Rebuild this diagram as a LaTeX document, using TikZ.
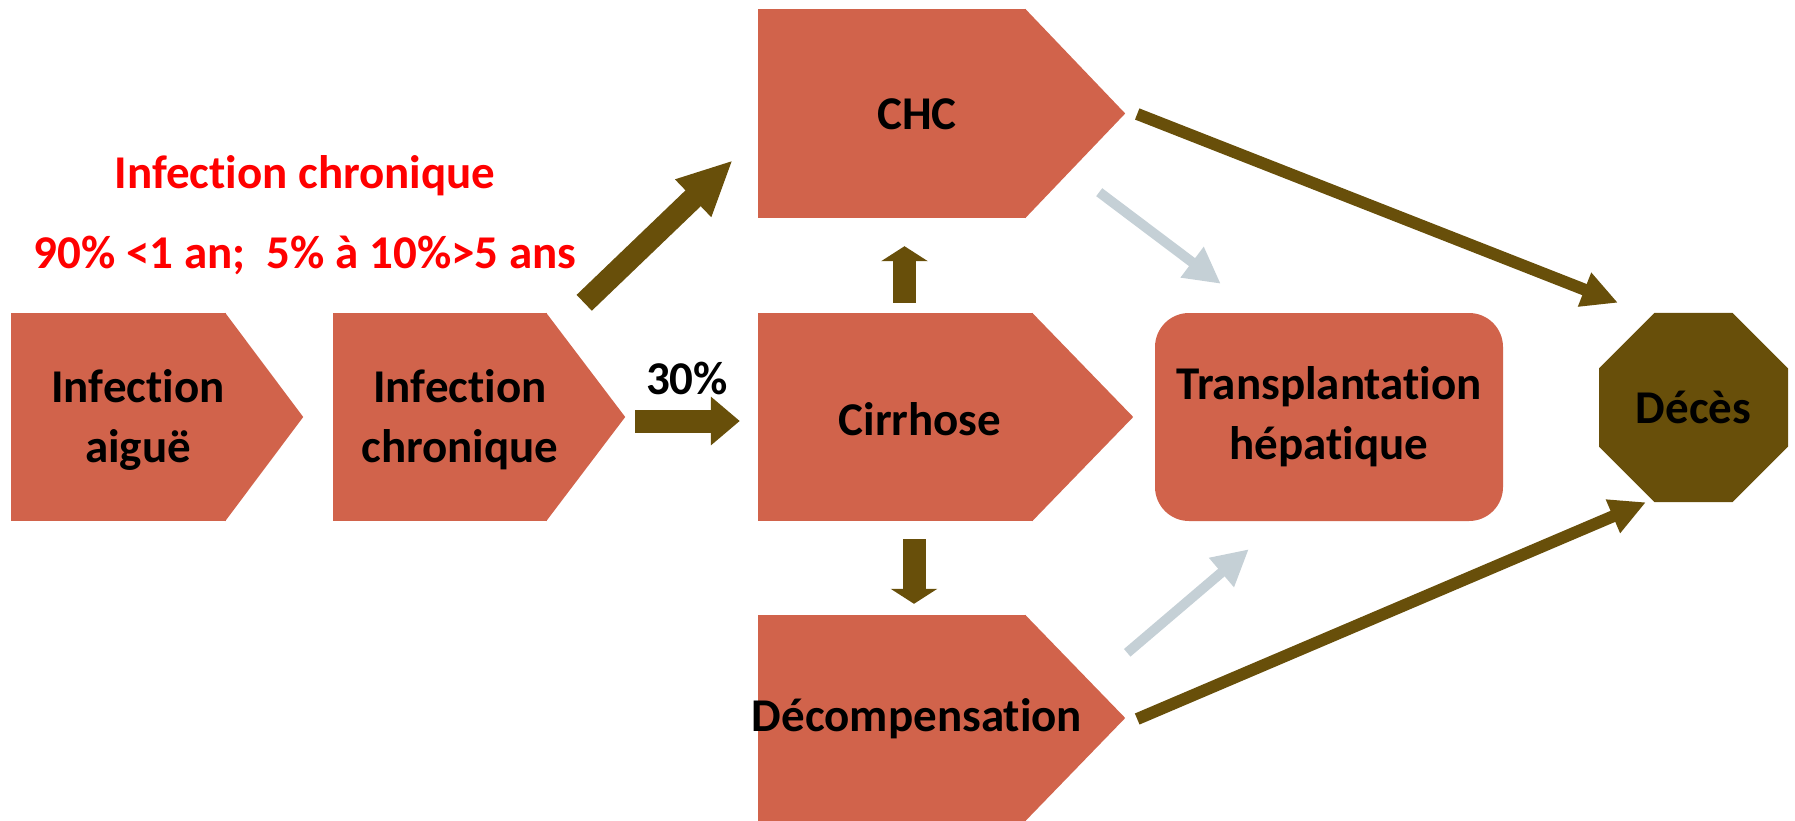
\documentclass[tikz,border=0pt]{standalone}
\usepackage{fontspec}
\setmainfont{Carlito}[Ligatures={NoCommon}]
\usetikzlibrary{arrows.meta, shapes.geometric}
\definecolor{BR}{RGB}{209,99,75}
\definecolor{DB}{RGB}{104,79,10}
\definecolor{LS}{RGB}{197,208,214}
\definecolor{RD}{RGB}{255,0,0}

\begin{document}
\begin{tikzpicture}[
  x=1pt, y=-1pt,
  chev/.style={fill=BR, inner sep=0pt, minimum height=208pt, minimum width=#1},
  txt/.style={font=\fontsize{47}{60}\selectfont\bfseries, align=center},
  rtxt/.style={txt, text=RD},
  big/.style={draw=DB, line width=22pt, -{Triangle[length=55pt,width=48pt]}},
  blk/.style={draw=DB, line width=23pt, -{Triangle[length=29pt,width=47pt]}},
  stub/.style={draw=DB, line width=23pt, -{Triangle[length=15pt,width=46pt]}},
  thin/.style={draw=DB, line width=12pt, -{Triangle[length=36pt,width=34pt]}},
  pale/.style={draw=LS, line width=10pt, -{Triangle[length=36pt,width=36pt]}}
]
\useasboundingbox (0,0) rectangle (1795,821);

% Chevron boxes (flat part, tips added after)
\node[chev=215pt] (acute)  at (118.5,417) {};
\node[chev=214pt] (chron)  at (440,417)   {};
\node[chev=275pt] (cirr)   at (895.5,417) {};
\node[chev=268pt, minimum height=209pt] (chc)    at (892,113.5) {};
\node[chev=268pt, minimum height=206pt] (decomp) at (892,718)   {};
\foreach \n/\t in {acute/77, chron/78, cirr/100, chc/99, decomp/99}
  \fill[BR] ([xshift=-1pt]\n.north east) -- ([xshift=\t pt]\n.east)
    -- ([xshift=-1pt]\n.south east) -- cycle;

% Chevron labels
\node[txt] (acutelbl)  at (138,420) {Infection\\aiguë};
\node[txt] (chronlbl)  at (460,420) {Infection\\chronique};
\node[txt] (cirrlbl)   at (920,419) {Cirrhose};
\node[txt] (chclbl)    at (917,114) {CHC};
\node[txt] (decomplbl) at (917,719) {Décompensation};

% Other boxes
\node[txt, fill=BR, rounded corners=34pt, minimum width=348pt,
  minimum height=208pt] (transp) at (1329,417) {Transplantation\\hépatique};
\node[txt, fill=DB, regular polygon, regular polygon sides=8,
  minimum size=204.6pt, inner sep=0pt] (deces) at (1693.5,407.5) {Décès};

% Red annotation
\node[rtxt] (chrontitle) at (305,176) {Infection chronique};
\node[rtxt] (chronrate)  at (305,255) {90\% <1 an;~ 5\% à 10\%>5 ans};

% Arrows
\draw[big] ([shift={(37,-10)}]chron.north east) -- ([shift={(-25,-58)}]chc.south west);
\node[txt] (pct) at (687,378) {30\%};
\draw[blk] ([shift={(88,4)}]chron.east) -- ([shift={(-18,4)}]cirr.west);
\draw[stub] ([shift={(9,-10)}]cirr.north) -- ([shift={(12.5,28)}]chc.south);
\draw[stub] ([shift={(18.5,18)}]cirr.south) -- ([shift={(22,-11)}]decomp.north);
\draw[thin] ([shift={(111,0.5)}]chc.east) -- ([shift={(-75.5,-10)}]deces.north);
\draw[thin] ([shift={(111,1)}]decomp.east) -- ([shift={(-47.5,0)}]deces.south);
\draw[pale] ([shift={(73,-26)}]chc.south east) -- ([shift={(66,-29)}]transp.north west);
\draw[pale] ([shift={(101,38)}]decomp.north east) -- ([shift={(94,28)}]transp.south west);
\end{tikzpicture}
\end{document}
